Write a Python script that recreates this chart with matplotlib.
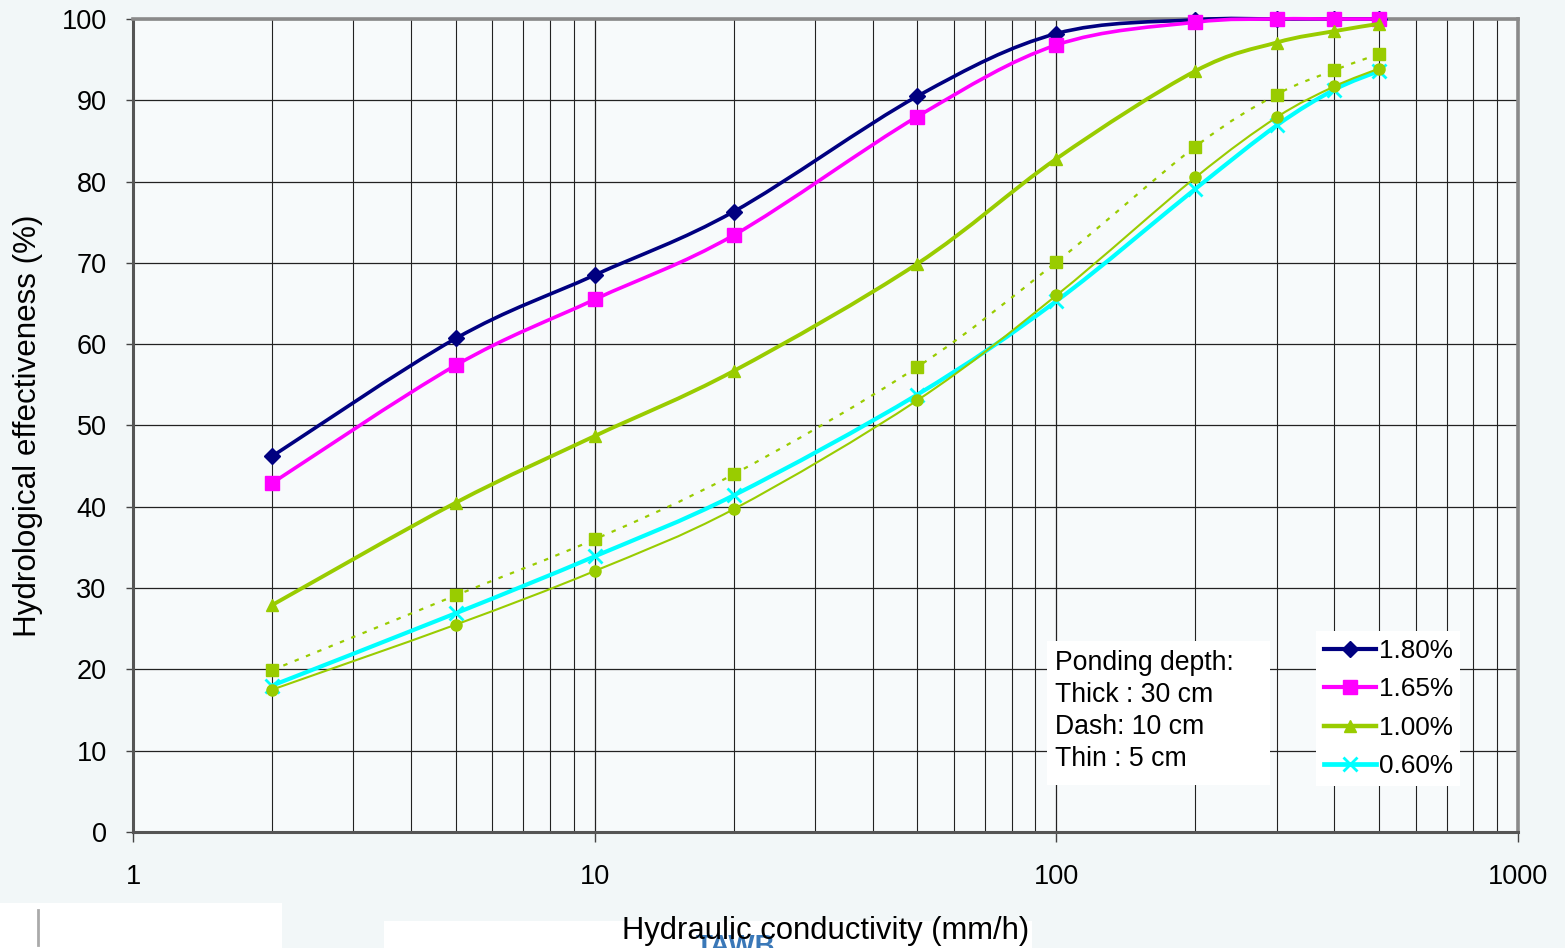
import numpy as np
import matplotlib.pyplot as plt
from matplotlib.path import Path
from matplotlib.patches import PathPatch, Rectangle
from matplotlib.lines import Line2D

plt.rcParams['font.family'] = ['Liberation Sans', 'DejaVu Sans']

## data
k_values = [2, 5, 10, 20, 50, 100, 200, 300, 400, 500]

eff_180 = [46.2, 60.7, 68.5, 76.3, 90.5, 98.2, 99.9, 100, 100, 100]
eff_165 = [42.9, 57.4, 65.5, 73.4, 88.0, 96.8, 99.6, 100, 100, 100]
eff_100 = [27.9, 40.5, 48.7, 56.7, 69.9, 82.8, 93.6, 97.1, 98.5, 99.4]
eff_100_dash = [19.9, 29.1, 36.0, 44.0, 57.2, 70.1, 84.3, 90.7, 93.7, 95.7]
eff_100_thin = [17.5, 25.5, 32.1, 39.7, 53.1, 66.0, 80.5, 87.9, 91.7, 93.9]
eff_060 = [18.0, 26.9, 33.9, 41.4, 53.8, 65.3, 79.1, 86.9, 91.3, 93.6]

legend_labels = ['1.80%', '1.65%', '1.00%', '0.60%']
box_text = 'Ponding depth:\nThick : 30 cm\nDash: 10 cm\nThin : 5 cm'

green = '#99cc00'


# excel-like smoothed line: catmull-rom bezier in (log x, y)
def smooth_path(xs, ys):
    lx = np.log10(xs)
    ys = np.asarray(ys, dtype=float)
    n = len(lx)
    verts = [(xs[0], ys[0])]
    codes = [Path.MOVETO]
    for i in range(n - 1):
        i0 = max(i - 1, 0)
        i3 = min(i + 2, n - 1)
        c1x = lx[i] + (lx[i + 1] - lx[i0]) / 6
        c1y = ys[i] + (ys[i + 1] - ys[i0]) / 6
        c2x = lx[i + 1] - (lx[i3] - lx[i]) / 6
        c2y = ys[i + 1] - (ys[i3] - ys[i]) / 6
        verts += [(10 ** c1x, c1y), (10 ** c2x, c2y), (xs[i + 1], ys[i + 1])]
        codes += [Path.CURVE4] * 3
    return Path(verts, codes)


fig = plt.figure(figsize=(15.65, 9.48), dpi=100, facecolor='#f2f7f8')

# slide leftovers below the chart (behind everything)
fig.patches.append(Rectangle((0, 0), 282 / 1565, 45 / 948,
                             transform=fig.transFigure, facecolor='white',
                             edgecolor='none', zorder=-2))
fig.patches.append(Rectangle((384 / 1565, 0), 648 / 1565, 27 / 948,
                             transform=fig.transFigure, facecolor='white',
                             edgecolor='none', zorder=-2))
fig.add_artist(Line2D([38 / 1565, 38 / 1565], [3 / 948, 38 / 948],
                      transform=fig.transFigure, color='#aaaaaa', lw=2,
                      zorder=-1))
fig.text(736 / 1565, -12 / 948, 'TAWB', color='#3a78b8', fontsize=20,
         fontweight='bold', ha='center', va='bottom', zorder=-1)

ax = fig.add_axes([0.085, 0.1224, 0.885, 0.8576])
ax.set_facecolor('#f7fafb')

series = [
    (eff_180, '#000080', 2.6, '-', 'D', 8, 1),
    (eff_165, '#ff00ff', 2.6, '-', 's', 10, 1),
    (eff_100, green, 2.8, '-', '^', 9, 1),
    (eff_100_dash, green, 1.6, (0, (2, 3.5)), 's', 8, 1),
    (eff_060, '#00ffff', 3.0, '-', 'x', 10, 2),
    (eff_100_thin, green, 1.5, '-', 'o', 8, 1),
]

for z, (vals, col, lw, ls, mk, ms, mew) in enumerate(series):
    patch = PathPatch(smooth_path(k_values, vals), facecolor='none',
                      edgecolor=col, lw=lw, linestyle=ls, zorder=3 + z,
                      clip_on=False)
    ax.add_patch(patch)
    ax.plot(k_values, vals, linestyle='none', marker=mk, ms=ms,
            color=col, mec=col, mew=mew, zorder=3 + z, clip_on=False)

ax.set_xscale('log')
ax.set_xlim(1, 1000)
ax.set_ylim(0, 100)
ax.set_yticks(np.arange(0, 101, 10))
ax.set_xticks([1, 10, 100, 1000])
ax.set_xticklabels(['1', '10', '100', '1000'])

ax.grid(True, which='major', color='#222222', lw=0.9, zorder=1)
ax.grid(True, which='minor', axis='x', color='#222222', lw=0.8, zorder=1)
ax.set_axisbelow(True)

ax.tick_params(axis='both', which='major', labelsize=19.5, direction='out',
               length=5, width=1, color='#444444')
ax.tick_params(axis='x', which='major', pad=16, length=7)
ax.tick_params(axis='y', pad=14)
ax.tick_params(axis='x', which='minor', length=0)

for side in ['left', 'bottom']:
    ax.spines[side].set_color('#555555')
    ax.spines[side].set_linewidth(2.2)
for side in ['top', 'right']:
    ax.spines[side].set_color('#8a8a8a')
    ax.spines[side].set_linewidth(2.6)

ax.set_xlabel('Hydraulic conductivity (mm/h)', fontsize=22.3, labelpad=19)
ax.set_ylabel('Hydrological effectiveness (%)', fontsize=22.6, labelpad=13)

# ponding depth note
ax.add_patch(Rectangle((0.660, 0.058), 0.161, 0.177, transform=ax.transAxes,
                       facecolor='white', edgecolor='none', zorder=10))
ax.text(0.666, 0.224, box_text, transform=ax.transAxes, fontsize=19.2,
        va='top', ha='left', linespacing=1.3, zorder=11)

# legend
handles = []
for vals, col, lw, ls, mk, ms, mew in [series[0], series[1], series[2], series[4]]:
    handles.append(Line2D([], [], color=col, lw=lw + 0.4, marker=mk,
                          ms=ms, mew=mew, mec=col))
leg = ax.legend(handles, legend_labels, loc='upper left',
                bbox_to_anchor=(0.854, 0.247), fontsize=18.8, frameon=True,
                fancybox=False, handlelength=2.0, handletextpad=0.1,
                labelspacing=0.55, borderpad=0.3, borderaxespad=0)
leg.get_frame().set_facecolor('white')
leg.get_frame().set_edgecolor('none')
leg.get_frame().set_alpha(1)
leg.set_zorder(12)

fig.savefig('out.png', dpi=100, facecolor=fig.get_facecolor())
